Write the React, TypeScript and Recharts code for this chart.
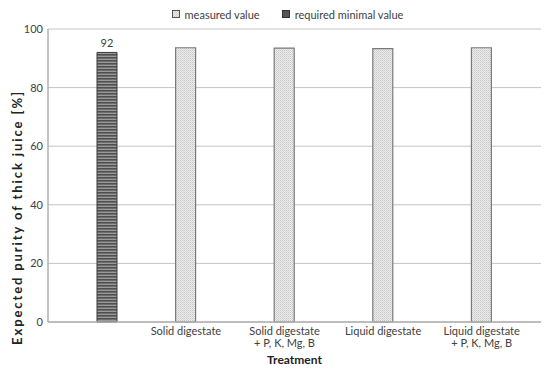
import React from "react";
import {
  Bar,
  BarChart,
  CartesianGrid,
  Label,
  LabelList,
  Legend,
  XAxis,
  YAxis,
} from "recharts";

// categories along the x axis (first one has no label, it holds the required value)
const categories = [
  "",
  "Solid digestate",
  "Solid digestate\n+ P, K, Mg, B",
  "Liquid digestate",
  "Liquid digestate\n+ P, K, Mg, B",
];
const measuredValues = [null, 93.6, 93.5, 93.3, 93.6];
const requiredValues = [92, null, null, null, null];
const yTicks = [0, 20, 40, 60, 80, 100];

const data = categories.map((name, i) => ({
  name,
  measured: measuredValues[i],
  required: requiredValues[i],
}));

const FONT = "Lato, 'Open Sans', sans-serif";
const GRID = "#c4c4c4";
const TEXT = "#404040";

const BAR_SIZE = 20;

// tick labels sit under the measured bar (left slot), so shift by half a bar
const CategoryTick = (props: any) => {
  const { x, y, payload } = props;
  const lines = String(payload.value).split("\n");
  return (
    <text
      x={x - BAR_SIZE / 2}
      y={y}
      textAnchor="middle"
      fill={TEXT}
      fontSize={11}
      fontFamily={FONT}
    >
      {lines.map((line, i) => (
        <tspan key={i} x={x - BAR_SIZE / 2} dy={i === 0 ? 5 : 11.5}>
          {line}
        </tspan>
      ))}
    </text>
  );
};

const LegendContent = () => (
  <div
    style={{
      display: "flex",
      justifyContent: "center",
      alignItems: "center",
      gap: 22,
      paddingLeft: 34,
      fontFamily: FONT,
      fontSize: 11,
      color: TEXT,
      height: 18,
    }}
  >
    <span style={{ display: "flex", alignItems: "center" }}>
      <svg width={8} height={8} style={{ marginRight: 5 }}>
        <rect x={0.5} y={0.5} width={7} height={7} fill="url(#dots)" stroke="#555" />
      </svg>
      measured value
    </span>
    <span style={{ display: "flex", alignItems: "center" }}>
      <svg width={8} height={8} style={{ marginRight: 5 }}>
        <rect x={0.5} y={0.5} width={7} height={7} fill="#555" stroke="#333" />
      </svg>
      required minimal value
    </span>
  </div>
);

const YLabel = (props: any) => {
  const { viewBox } = props;
  const cx = viewBox.x + 17;
  const cy = viewBox.y + viewBox.height / 2 + 42;
  return (
    <text
      transform={`translate(${cx},${cy}) rotate(-90)`}
      textAnchor="middle"
      dominantBaseline="central"
      fontFamily={FONT}
      fontWeight="bold"
      fontSize={13}
      letterSpacing={1.9}
      fill="#222"
    >
      Expected purity of thick juice [%]
    </text>
  );
};

export default function App() {
  return (
    <div>
      <style>{`body{margin:0}`}</style>
      <BarChart
        width={550}
        height={373}
        data={data}
        margin={{ top: 5, right: 9, bottom: 9, left: 0 }}
        barGap={0}
        barSize={BAR_SIZE}
      >
        <defs>
          <pattern id="dots" width="2" height="2" patternUnits="userSpaceOnUse">
            <rect width="2" height="2" fill="#ececec" />
            <rect width="1" height="1" fill="#c8c8c8" />
            <rect x="1" y="1" width="1" height="1" fill="#d6d6d6" />
          </pattern>
          <pattern id="stripes" width="3" height="3" patternUnits="userSpaceOnUse">
            <rect width="3" height="3" fill="#9a9a9a" />
            <rect width="3" height="1.6" fill="#4f4f4f" />
          </pattern>
        </defs>
        <Legend verticalAlign="top" height={24} content={<LegendContent />} />
        <CartesianGrid vertical={false} stroke={GRID} strokeWidth={1} />
        <XAxis
          dataKey="name"
          axisLine={{ stroke: "#b0b0b0", strokeWidth: 1.5 }}
          tickLine={false}
          tick={<CategoryTick />}
          interval={0}
          height={42}
        >
          <Label
            value="Treatment"
            position="insideBottom"
            offset={0}
            fontFamily={FONT}
            fontWeight="bold"
            fontSize={12}
            fill="#222"
          />
        </XAxis>
        <YAxis
          domain={[0, 100]}
          ticks={yTicks}
          width={48}
          axisLine={{ stroke: "#b0b0b0", strokeWidth: 1.5 }}
          tickLine={false}
          tickSize={0}
          tickMargin={5}
          tick={{ fill: TEXT, fontSize: 11, fontFamily: FONT }}
        >
          <Label content={<YLabel />} />
        </YAxis>
        <YAxis
          yAxisId="right"
          orientation="right"
          domain={[0, 100]}
          width={0}
          tick={false}
          tickLine={false}
          axisLine={{ stroke: GRID }}
        />
        <Bar
          dataKey="measured"
          fill="url(#dots)"
          stroke="#7a7a7a"
          strokeWidth={1.2}
          isAnimationActive={false}
        />
        <Bar
          dataKey="required"
          fill="url(#stripes)"
          stroke="#3a3a3a"
          strokeWidth={1}
          isAnimationActive={false}
        >
          <LabelList
            dataKey="required"
            position="top"
            offset={5}
            fill={TEXT}
            fontSize={11}
            fontFamily={FONT}
          />
        </Bar>
      </BarChart>
    </div>
  );
}
